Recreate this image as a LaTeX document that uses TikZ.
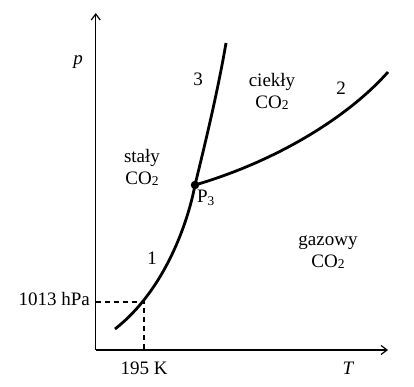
\documentclass[tikz,border=0pt]{standalone}
\usepackage{fontspec}
\setmainfont{Liberation Serif}
\usetikzlibrary{arrows.meta}
\newcommand{\subtwo}{\raisebox{-0.1ex}{\fontsize{13.5}{13.5}\selectfont 2}}
\begin{document}
\begin{tikzpicture}[x=1pt,y=-1pt,
  every node/.style={font=\fontsize{19}{22}\selectfont, inner sep=0pt},
  axis/.style={line width=1.5pt, -{Straight Barb[length=6pt,width=9pt,line width=1.2pt]}},
  curve/.style={line width=2.8pt},
  guide/.style={line width=1.1pt, dash pattern=on 5pt off 4pt},
  lbl/.style={align=center}]
\useasboundingbox (0,0) rectangle (414,387);
\coordinate (O) at (95.7,350);
\coordinate (ytop) at (95.7,13);
\coordinate (xend) at (388,350);
\coordinate (A) at (144,302);
\coordinate (Ay) at (95.7,302);
\coordinate (Ax) at (144,350);
\coordinate (c1) at (115,329);
\coordinate (c3) at (226,43);
\coordinate (c2) at (388,72);
\draw[axis] (O) -- (ytop);
\draw[axis] (O) -- (xend);
\draw[guide] (Ay) -- (A) -- (Ax);
\node[circle, fill=black, minimum size=8.5pt] (P3) at (195,185) {};
\draw[curve] (c1) .. controls (165,290) and (188,222) .. (P3.center)
  .. controls (206,140) and (218,90) .. (c3);
\draw[curve] (P3.center) .. controls (280,160) and (350,115) .. (c2);
\node (p) at (78,62) {\itshape p};
\node (T) at (348,368) {\itshape T};
\node (n3) at (198,79) {3};
\node (n2) at (341,88) {2};
\node (n1) at (152,258) {1};
\node[lbl] (liq) at (272,91) {ciekły\\CO\subtwo};
\node[lbl] (sol) at (142,167) {stały\\CO\subtwo};
\node[lbl] (gas) at (328,252) {gazowy\\CO\subtwo};
\node (P3l) at (206,198) {P\textsubscript{3}};
\node[anchor=east] (hpa) at (90,299) {1013 hPa};
\node (K) at (144,368) {195 K};
\end{tikzpicture}
\end{document}
